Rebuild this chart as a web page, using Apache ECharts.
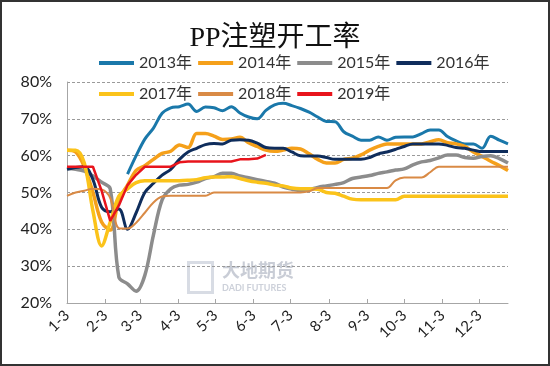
<!DOCTYPE html>
<html><head><meta charset="utf-8">
<script src="https://cdn.jsdelivr.net/npm/echarts@6/dist/echarts.min.js"></script>
<style>
html,body{margin:0;padding:0;background:#fff}
#c{width:550px;height:366px;position:absolute;left:0;top:0}
#frame{position:absolute;left:0;top:0;width:550px;height:366px;box-sizing:border-box;border:2px solid #333;pointer-events:none}
</style>
</head><body><div id="c"></div><div id="frame"></div>
<script>
// month tick labels shown on x axis
const monthLabels = ['1-3','2-3','3-3','4-3','5-3','6-3','7-3','8-3','9-3','10-3','11-3','12-3'];
const seriesNames = ['2013年','2014年','2015年','2016年','2017年','2018年','2019年'];
// weekly values (week k = Jan 3 + 7k days)
const y2013 = [null,null,null,null,null,null,null,55,60,64.5,67.5,71.5,73,73.3,74,72,73.2,73,72.2,73.3,71.6,70.5,70,72.3,73.8,74.2,73.6,72.8,71.8,70.5,69.3,69.2,66.5,65.3,64.2,64.2,65.1,64.2,65,65.1,65.1,66,67,67,65.2,64,63.2,63.2,62,65.3,64.2,63.2];
const y2014 = [61.5,61,57,50,42,39.8,48,52,56,57.3,59,60.6,61.2,62.9,62.2,66,66,65.3,64.4,64.5,65,63.5,62.5,61.5,61.2,61.5,62,61.8,60.5,59,58,58,59,59.3,60.2,61.5,62.5,63.2,63.2,63.2,63.2,63.2,63.8,64.3,63.5,63.2,62.5,61,59.8,58.5,57.3,56];
const y2015 = [56.5,56.3,55.8,54.5,52.8,51,27,25.2,23.2,27.5,38.5,48,51,52,52.2,52.8,53.8,54.3,55.2,55.2,54.5,54,53.5,53,52.5,51.5,50.9,50.5,50.8,51.4,51.8,52.2,52.7,53.8,54.2,54.6,55.2,55.6,56.1,56.4,57.5,58.3,58.7,59.4,60.2,60.2,59.5,59.3,59.8,60,59.2,58];
const y2016 = [56.3,56.8,57,53.5,46,44.8,45.5,40,44.5,50,52.5,54.7,56.3,59,61,62,63,63.3,63.2,64.2,64.3,64.2,63.4,62.2,62,62,61,60,59.9,59.9,59.5,59,59,59,59,59.5,60.5,61,61.7,62.5,63.2,63.2,63.2,63.2,62.8,62.2,62,61.5,61.1,61.1,61.1,61.1];
const y2017 = [61.5,61.5,58,45,35.5,42,49,51,52.7,53.2,53.2,53.2,53.2,53.2,53.3,53.5,54,54.2,54.2,54.3,53.8,53.2,52.8,52.5,52,51.8,51.2,51,51,50.9,50,49.8,49,48.2,48,48,48,48,48,49,49,49,49,49,49,49,49,49,49,49,49,49];
const y2018 = [49.1,50,50.5,51,50.8,48.5,40.3,40.2,41.8,44.5,47.3,48.9,49.1,49.1,49.1,49.1,49.1,50,50,50,50,50,50,50,50,50,50,50,50.3,51.2,51.2,51.2,51.2,51.2,51.2,51.2,51.2,51.2,53.3,54.1,54.1,54.1,55.5,57,57,57,57,57,57,57,57,57];
const y2019 = [57,57,57,57,50.5,42.3,46.5,52,54.8,57,57,57,57,58.2,58.4,58.4,58.4,58.4,58.4,58.4,59,59,59.2,60.2];

const allValues = [y2013,y2014,y2015,y2016,y2017,y2018,y2019];
const colors = ['#1a78aa','#f5a01a','#8c8c8c','#0f2d5c','#fbc31a','#d98a45','#e8141c'];
const widths = [3,3.5,3.5,3,3.5,2,2.5];

// daily category axis from Jan 3 to Dec 26
const days = [];
for (let i = 0; i <= 357; i++) {
  const d = new Date(2019, 0, 3 + i);
  days.push((d.getMonth() + 1) + '-' + d.getDate());
}
const showMonth = (idx, val) => monthLabels.indexOf(days[idx]) >= 0;

const chart = echarts.init(document.getElementById('c'));
const font = 'Lato, "Noto Sans CJK SC", sans-serif';
const legendBase = {
  left: 99, padding: 0, itemWidth: 35, itemHeight: 4, itemGap: 6, icon: 'rect',
  textStyle: {fontSize: 16, color: '#333', fontFamily: font}
};
chart.setOption({
  animation: false,
  backgroundColor: '#fff',
  title: {
    text: 'PP注塑开工率', left: 'center', top: 20,
    textStyle: {fontSize: 28, fontWeight: 'normal', color: '#111', fontFamily: '"Liberation Serif", "Noto Sans CJK SC", serif'}
  },
  legend: [
    Object.assign({}, legendBase, {top: 55, data: seriesNames.slice(0, 4)}),
    Object.assign({}, legendBase, {top: 86, data: seriesNames.slice(4)})
  ],
  grid: {left: 67, right: 42, top: 82, bottom: 63},
  graphic: [
    {type: 'rect', left: 186, top: 260, shape: {width: 24, height: 30}, style: {fill: 'none', stroke: '#d8dce4', lineWidth: 3}, z: 0},
    {type: 'text', left: 222, top: 261, style: {text: '大地期货', fill: '#c9cdd6', font: 'bold 18px "Noto Sans CJK SC"'}, z: 0},
    {type: 'text', left: 222, top: 284, style: {text: 'DADI FUTURES', fill: '#cdd1da', font: 'bold 9px Lato'}, z: 0}
  ],
  xAxis: {
    type: 'category', data: days, boundaryGap: false,
    axisLine: {lineStyle: {color: '#a6a6a6'}},
    axisTick: {interval: showMonth, inside: true, length: 4, lineStyle: {color: '#a6a6a6'}},
    axisLabel: {interval: showMonth, rotate: 45, margin: 10, fontSize: 15, color: '#222', fontFamily: font}
  },
  yAxis: {
    type: 'value', min: 20, max: 80, interval: 10,
    axisLine: {show: true, lineStyle: {color: '#a6a6a6'}},
    axisTick: {show: false},
    axisLabel: {formatter: '{value}%', fontSize: 16, color: '#222', margin: 15, fontFamily: font},
    splitLine: {lineStyle: {type: [3, 2], color: '#9a9a9a', width: 1}}
  },
  series: seriesNames.map((name, i) => ({
    name: name, type: 'line',
    data: allValues[i].map((v, k) => v == null ? null : [k * 7, v]).filter(p => p),
    smooth: i === 6 ? false : 0.35,
    showSymbol: false, symbol: 'none',
    color: colors[i],
    lineStyle: {width: widths[i], color: colors[i]}
  }))
});
</script>
</body></html>
